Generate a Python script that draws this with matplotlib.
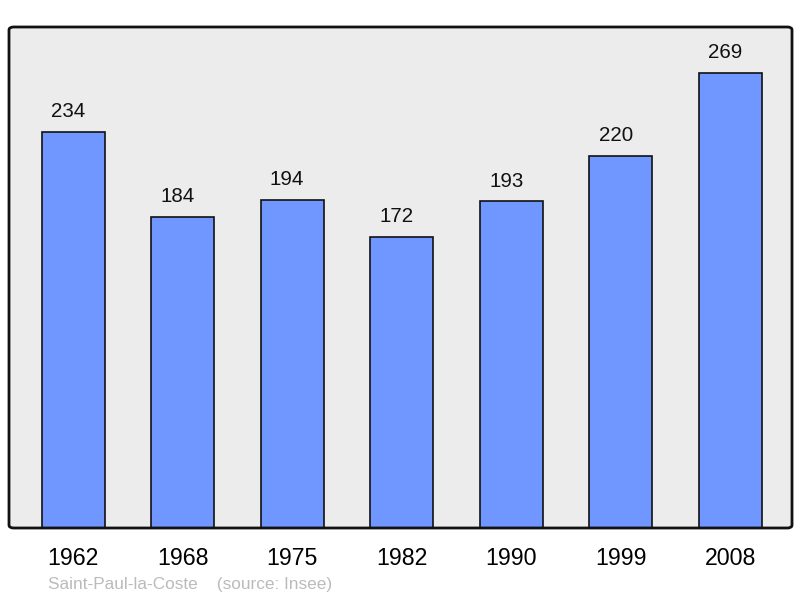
import matplotlib.pyplot as plt
from matplotlib.patches import FancyBboxPatch

years = ["1962", "1968", "1975", "1982", "1990", "1999", "2008"]
population = [234, 184, 194, 172, 193, 220, 269]

plt.rcParams["font.family"] = ["Liberation Sans", "DejaVu Sans"]

fig = plt.figure(figsize=(8, 5.98), dpi=100)
ax = fig.add_axes([9 / 800, 1 - 528 / 598, 783 / 800, 501 / 598])
ax.set_facecolor("#ececec")

x = list(range(len(years)))
ax.bar(x, population, width=0.575, color="#7096ff", edgecolor="#111111", linewidth=1.2, zorder=2)
for xi, v in zip(x, population):
    ax.text(xi - 0.045, v + 12, str(v), ha="center", va="center", fontsize=14.8, color="#111111")

ax.set_xlim(-0.585, 6.565)
ax.set_ylim(0, 296)
ax.set_yticks([])
ax.set_xticks(x)
ax.set_xticklabels(years, fontsize=16.7)
ax.tick_params(axis="x", length=0, pad=13.5)
for s in ax.spines.values():
    s.set_visible(False)

frame = FancyBboxPatch((0, 0), 1, 1, boxstyle="round,pad=0,rounding_size=0.006",
                       transform=ax.transAxes, facecolor="none", edgecolor="#111111",
                       linewidth=2, clip_on=False, zorder=5)
ax.add_patch(frame)

fig.text(48 / 800, 1 - 584 / 598, "Saint-Paul-la-Coste    (source: Insee)",
         fontsize=12.4, color="#bbbbbb", va="center", ha="left")

fig.savefig("out.png", dpi=100, facecolor="white")
